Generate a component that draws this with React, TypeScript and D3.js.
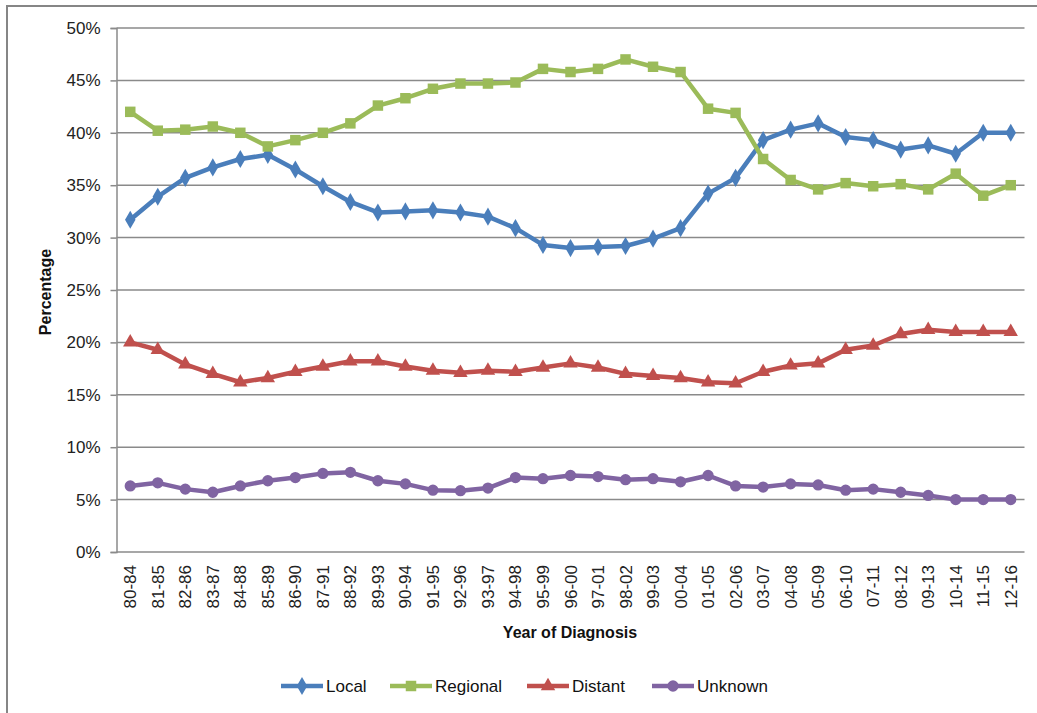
import { useEffect, useRef } from 'react';
import * as d3 from 'd3';

const categories = [
  '80-84', '81-85', '82-86', '83-87', '84-88', '85-89', '86-90', '87-91', '88-92', '89-93',
  '90-94', '91-95', '92-96', '93-97', '94-98', '95-99', '96-00', '97-01', '98-02', '99-03',
  '00-04', '01-05', '02-06', '03-07', '04-08', '05-09', '06-10', '07-11', '08-12', '09-13',
  '10-14', '11-15', '12-16',
];

const local = [
  31.7, 33.9, 35.7, 36.7, 37.5, 37.9, 36.5, 34.9, 33.4, 32.4,
  32.5, 32.6, 32.4, 32.0, 30.9, 29.3, 29.0, 29.1, 29.2, 29.9,
  30.9, 34.2, 35.7, 39.3, 40.3, 40.9, 39.6, 39.3, 38.4, 38.8,
  38.0, 40.0, 40.0,
];
const regional = [
  42.0, 40.2, 40.3, 40.6, 40.0, 38.7, 39.3, 40.0, 40.9, 42.6,
  43.3, 44.2, 44.7, 44.7, 44.8, 46.1, 45.8, 46.1, 47.0, 46.3,
  45.8, 42.3, 41.9, 37.5, 35.5, 34.6, 35.2, 34.9, 35.1, 34.6,
  36.1, 34.0, 35.0,
];
const distant = [
  20.0, 19.3, 17.9, 17.0, 16.2, 16.6, 17.2, 17.7, 18.2, 18.2,
  17.7, 17.3, 17.1, 17.3, 17.2, 17.6, 18.0, 17.6, 17.0, 16.8,
  16.6, 16.2, 16.1, 17.2, 17.8, 18.0, 19.3, 19.7, 20.8, 21.2,
  21.0, 21.0, 21.0,
];
const unknown = [
  6.3, 6.6, 6.0, 5.7, 6.3, 6.8, 7.1, 7.5, 7.6, 6.8,
  6.5, 5.9, 5.85, 6.1, 7.1, 7.0, 7.3, 7.2, 6.9, 7.0,
  6.7, 7.3, 6.3, 6.2, 6.5, 6.4, 5.9, 6.0, 5.7, 5.4,
  5.0, 5.0, 5.0,
];

const yTicks = [0, 5, 10, 15, 20, 25, 30, 35, 40, 45, 50];

const seriesNames = ['Local', 'Regional', 'Distant', 'Unknown'];
const seriesColors = ['#4a7ebb', '#9bbb59', '#c0504d', '#8064a2'];
const seriesMarkers = ['diamond', 'square', 'triangle', 'circle'];

const FONT = '"Liberation Sans", Arial, sans-serif';

export default function App() {
  const ref = useRef<SVGSVGElement>(null);

  useEffect(() => {
    if (!ref.current) return;
    const svg = d3.select(ref.current);
    svg.selectAll('*').remove();

    const width = 1037;
    const height = 713;
    const plot = { left: 116.5, right: 1024.5, top: 28, bottom: 552 };

    svg.attr('width', width).attr('height', height);

    // outer chart frame (runs off the picture on right/bottom)
    svg.append('rect')
      .attr('x', 7).attr('y', 6)
      .attr('width', 1200).attr('height', 900)
      .attr('fill', '#fff')
      .attr('stroke', '#868686')
      .attr('stroke-width', 2);

    const x = d3.scalePoint<string>()
      .domain(categories)
      .range([plot.left, plot.right])
      .padding(0.5);

    const y = d3.scaleLinear()
      .domain([0, 50])
      .range([plot.bottom, plot.top]);

    // gridlines
    svg.append('g')
      .selectAll('line')
      .data(yTicks.filter(t => t > 0))
      .enter()
      .append('line')
      .attr('x1', plot.left).attr('x2', plot.right)
      .attr('y1', d => y(d)).attr('y2', d => y(d))
      .attr('stroke', '#8a8a8a')
      .attr('stroke-width', 1.5);

    // y axis
    const yAxis = svg.append('g')
      .attr('transform', `translate(${plot.left},0)`)
      .call(d3.axisLeft(y).tickValues(yTicks).tickSize(6).tickPadding(10).tickFormat(d => `${d}%`));
    yAxis.select('.domain').attr('stroke', '#8a8a8a').attr('stroke-width', 1.5);
    yAxis.selectAll('.tick line').attr('stroke', '#8a8a8a').attr('stroke-width', 1.5);
    yAxis.selectAll('text')
      .attr('font-family', FONT)
      .attr('font-size', 17)
      .attr('fill', '#222');

    // x axis baseline
    svg.append('line')
      .attr('x1', plot.left).attr('x2', plot.right)
      .attr('y1', plot.bottom).attr('y2', plot.bottom)
      .attr('stroke', '#8a8a8a')
      .attr('stroke-width', 1.5);

    // x labels, rotated
    svg.append('g')
      .selectAll('text')
      .data(categories)
      .enter()
      .append('text')
      .attr('transform', d => `translate(${x(d)! + 6},${plot.bottom + 13}) rotate(-90)`)
      .attr('text-anchor', 'end')
      .attr('font-family', FONT)
      .attr('font-size', 17)
      .attr('fill', '#222')
      .text(d => d);

    // axis titles
    svg.append('text')
      .attr('transform', `translate(51,${(plot.top + plot.bottom) / 2 + 2}) rotate(-90)`)
      .attr('text-anchor', 'middle')
      .attr('font-family', FONT)
      .attr('font-size', 16)
      .attr('font-weight', 'bold')
      .attr('fill', '#111')
      .text('Percentage');

    svg.append('text')
      .attr('x', 570).attr('y', 638)
      .attr('text-anchor', 'middle')
      .attr('font-family', FONT)
      .attr('font-size', 16)
      .attr('font-weight', 'bold')
      .attr('fill', '#111')
      .text('Year of Diagnosis');

    const symbolFor = (m: string) => {
      if (m === 'diamond') return d3.symbol().type(d3.symbolDiamond).size(95)();
      if (m === 'square') return d3.symbol().type(d3.symbolSquare).size(110)();
      if (m === 'triangle') return d3.symbol().type(d3.symbolTriangle).size(90)();
      return d3.symbol().type(d3.symbolCircle).size(100)();
    };

    const allSeries = [local, regional, distant, unknown];
    const line = d3.line<number>()
      .x((_, i) => x(categories[i])!)
      .y(d => y(d));

    allSeries.forEach((vals, si) => {
      const color = seriesColors[si];
      const g = svg.append('g');
      g.append('path')
        .datum(vals)
        .attr('fill', 'none')
        .attr('stroke', color)
        .attr('stroke-width', 4.5)
        .attr('stroke-linejoin', 'round')
        .attr('d', line);
      g.selectAll('path.mk')
        .data(vals)
        .enter()
        .append('path')
        .attr('class', 'mk')
        .attr('transform', (d, i) => `translate(${x(categories[i])},${y(d)})`)
        .attr('d', symbolFor(seriesMarkers[si]))
        .attr('fill', color);
    });

    // legend
    const legendX = [281, 390, 527, 652];
    const legendY = 686;
    seriesNames.forEach((name, i) => {
      const g = svg.append('g').attr('transform', `translate(${legendX[i]},${legendY})`);
      g.append('line')
        .attr('x1', 0).attr('x2', 42)
        .attr('y1', 0).attr('y2', 0)
        .attr('stroke', seriesColors[i])
        .attr('stroke-width', 4.5);
      g.append('path')
        .attr('transform', 'translate(21,0)')
        .attr('d', symbolFor(seriesMarkers[i]))
        .attr('fill', seriesColors[i]);
      g.append('text')
        .attr('x', 45).attr('y', 6)
        .attr('font-family', FONT)
        .attr('font-size', 17)
        .attr('fill', '#111')
        .text(name);
    });
  }, []);

  return (
    <svg
      ref={ref}
      style={{ position: 'absolute', left: 0, top: 0, background: '#fff' }}
      width={1037}
      height={713}
    />
  );
}
